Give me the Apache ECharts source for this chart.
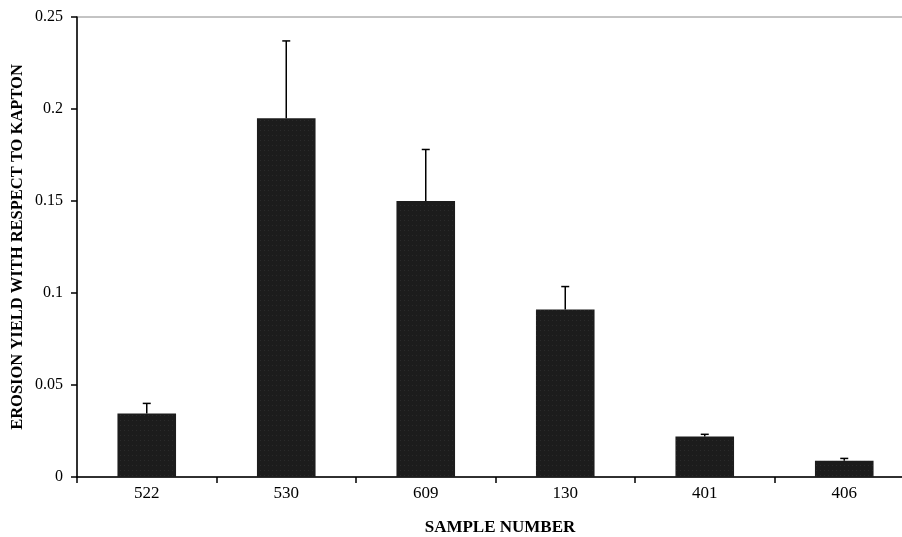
<!DOCTYPE html>
<html><head><meta charset="utf-8">
<script src="https://cdn.jsdelivr.net/npm/echarts@6/dist/echarts.min.js"></script>
<style>html,body{margin:0;padding:0;background:#fff;overflow:hidden}#c{width:902px;height:537px}</style>
</head><body><div id="c"></div>
<script>
const categories = ['522','530','609','130','401','406'];
const erosionYield = [0.0345, 0.195, 0.150, 0.091, 0.022, 0.0088];
const errorTop = [0.040, 0.237, 0.178, 0.1035, 0.0232, 0.0101];
const yTicks = [0, 0.05, 0.1, 0.15, 0.2, 0.25];

const chart = echarts.init(document.getElementById('c'));
const serif = '"Liberation Serif","DejaVu Serif",serif';
chart.setOption({
  animation: false,
  aria: {enabled: true, decal: {show: true}},
  grid: {left: 77, top: 17, width: 837, height: 460, outerBoundsMode: 'none', containLabel: false,
    show: true, borderColor: '#888', borderWidth: 1},
  xAxis: {
    type: 'category', data: categories,
    axisLine: {lineStyle: {color: '#000', width: 1.5}},
    axisTick: {show: true, length: 6, lineStyle: {color: '#000', width: 1.5}},
    axisLabel: {color: '#000', fontFamily: serif, fontSize: 17, margin: 8}
  },
  yAxis: {
    type: 'value', min: 0, max: 0.25, interval: 0.05,
    axisLine: {show: true, lineStyle: {color: '#000', width: 1.5}},
    axisTick: {show: true, length: 6, lineStyle: {color: '#000', width: 1.5}},
    splitLine: {show: false},
    axisLabel: {color: '#000', fontFamily: serif, fontSize: 16, margin: 14,
      formatter: v => { const t = yTicks.find(x => Math.abs(x - v) < 1e-9); return t === undefined ? '' : String(+t.toFixed(2)); }}
  },
  graphic: [
    {type: 'text', x: 500, y: 528,
      style: {text: 'SAMPLE NUMBER', font: 'bold 17px ' + serif, fill: '#000', textAlign: 'center', textVerticalAlign: 'middle'}},
    {type: 'text', x: 18, y: 247, rotation: Math.PI / 2,
      style: {text: 'EROSION YIELD WITH RESPECT TO KAPTON', font: 'bold 16.5px ' + serif, fill: '#000', textAlign: 'center', textVerticalAlign: 'middle'}}
  ],
  series: [
    {type: 'bar', data: erosionYield, barWidth: '42%',
      itemStyle: {color: '#1c1c1c',
        decal: {symbol: 'rect', symbolSize: 0.6, color: 'rgba(140,140,140,0.45)', dashArrayX: [1, 3], dashArrayY: [1, 4], rotation: 0}}},
    {type: 'custom', data: erosionYield.map((v, i) => [i, v, errorTop[i]]),
      renderItem: (params, api) => {
        const base = api.coord([api.value(0), api.value(1)]);
        const top = api.coord([api.value(0), api.value(2)]);
        const w = 4;
        return {type: 'group', children: [
          {type: 'line', shape: {x1: base[0], y1: base[1], x2: top[0], y2: top[1]}, style: {stroke: '#000', lineWidth: 1.5}},
          {type: 'line', shape: {x1: top[0] - w, y1: top[1], x2: top[0] + w, y2: top[1]}, style: {stroke: '#000', lineWidth: 1.5}}
        ]};
      }, z: 5}
  ]
});
</script></body></html>
